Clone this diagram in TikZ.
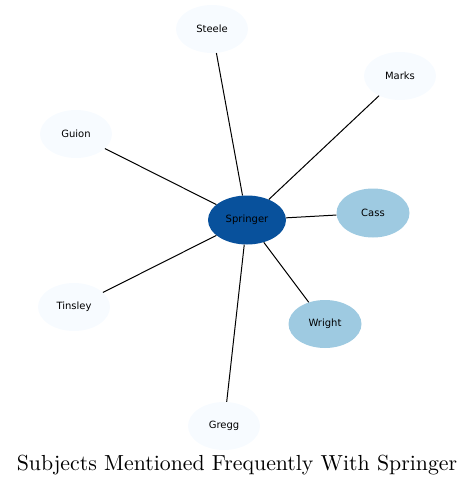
\documentclass[tikz,border=0pt]{standalone}
\usepackage{fontspec}
\newfontfamily\nodefont{DejaVu Sans}
\usetikzlibrary{shapes.geometric}
\definecolor{dark}{HTML}{08519C}
\definecolor{mid}{HTML}{9ECAE1}
\definecolor{pale}{HTML}{F7FBFF}
\begin{document}
\begin{tikzpicture}[x=1pt,y=-1pt,
  subj/.style={ellipse,draw=none,minimum width=72pt,minimum height=48pt,inner sep=0pt,font=\nodefont\fontsize{10}{12}\selectfont},
  conn/.style={draw=black,line width=1pt}]
\useasboundingbox (0,0) rectangle (475,487);
\node[subj,fill=dark,minimum width=78pt,minimum height=49pt] (springer) at (247,220) {Springer};
\node[subj,fill=pale] (steele) at (212,29) {Steele};
\node[subj,fill=pale] (marks) at (400,76) {Marks};
\node[subj,fill=pale] (guion) at (76,134) {Guion};
\node[subj,fill=mid,minimum width=73pt,minimum height=49pt] (cass) at (373,213) {Cass};
\node[subj,fill=pale] (tinsley) at (74,307) {Tinsley};
\node[subj,fill=mid,minimum width=73pt,minimum height=48pt] (wright) at (325,324) {Wright};
\node[subj,fill=pale] (gregg) at (224,426) {Gregg};
\foreach \n in {steele,marks,guion,cass,tinsley,wright,gregg}
  \draw[conn] (springer) -- (\n);
\node[inner sep=0pt] (title) at (237,465) {\scalebox{2.18}{\fontsize{10}{12}\selectfont Subjects Mentioned Frequently With Springer}};
\end{tikzpicture}
\end{document}
